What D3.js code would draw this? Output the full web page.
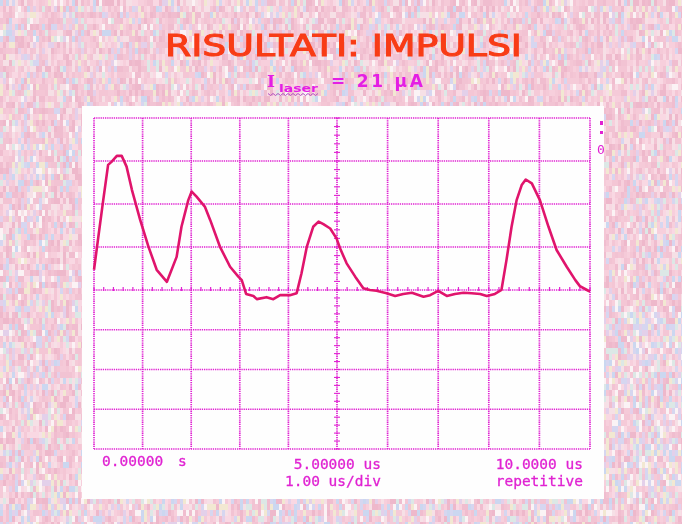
<!DOCTYPE html>
<html>
<head>
<meta charset="utf-8">
<script src="https://cdn.jsdelivr.net/npm/d3@7"></script>
<style>
  html, body { margin: 0; padding: 0; background: #f3c9d8; }
  #wrap { position: relative; width: 682px; height: 524px; overflow: hidden; }
  canvas, svg { position: absolute; left: 0; top: 0; }
</style>
</head>
<body>
<div id="wrap">
  <canvas id="bg" width="682" height="524"></canvas>
  <svg id="chart" width="682" height="524"></svg>
</div>
<script>
// ---------- data ----------
const titleText = "RISULTATI: IMPULSI";
const subtitleMain = "I";
const subtitleSub = "laser";
const subtitleRest = "=  21  \u00B5A";

const timeDivisions = [0, 1, 2, 3, 4, 5, 6, 7, 8, 9, 10];      // us
const voltDivisions = [-4, -3, -2, -1, 0, 1, 2, 3, 4];          // div

const timeLabelsTop = ["0.00000", "5.00000 us", "10.0000 us"];
const timeLabelsBottom = ["1.00 us/div", "repetitive"];
const timeUnit0 = "s";

// trace: time (us) and amplitude (divisions)
const traceTime = [0.00,0.09,0.19,0.29,0.36,0.47,0.57,0.67,0.78,0.95,1.12,1.29,1.50,1.70,1.80,1.94,2.01,2.11,2.28,2.39,2.59,2.80,2.97,3.04,3.13,3.28,3.35,3.55,3.69,3.83,4.03,4.17,4.27,4.38,4.51,4.62,4.72,4.86,4.99,5.06,5.19,5.36,5.52,5.65,5.78,5.98,6.15,6.31,6.48,6.71,6.84,7.00,7.17,7.33,7.50,7.66,7.83,7.96,8.12,8.25,8.35,8.45,8.55,8.65,8.73,8.85,9.01,9.18,9.34,9.54,9.71,9.80,9.94,10.00];
const traceVolt = [0.47,1.24,2.09,2.91,2.98,3.12,3.12,2.87,2.33,1.63,1.01,0.47,0.19,0.77,1.47,2.09,2.29,2.17,1.94,1.63,1.01,0.54,0.31,0.23,-0.10,-0.15,-0.23,-0.18,-0.23,-0.13,-0.13,-0.08,0.39,1.01,1.47,1.59,1.53,1.43,1.20,0.97,0.62,0.31,0.04,0.00,-0.02,-0.08,-0.15,-0.10,-0.07,-0.17,-0.13,-0.02,-0.15,-0.10,-0.07,-0.08,-0.10,-0.15,-0.10,0.00,0.70,1.47,2.09,2.44,2.57,2.48,2.09,1.47,0.93,0.54,0.23,0.09,0.00,-0.04];

// ---------- background texture (decoration) ----------
(function drawBg() {
  const cv = document.getElementById("bg");
  const c = cv.getContext("2d");
  const pinks = ["#f4c6d5", "#f7cfdc", "#f0bdcf", "#f9d8e3", "#f5cad8", "#f2c3d3", "#f6e0e6", "#eeb8cb"];
  const cools = ["#d6d6f0", "#cbd7f0", "#e3d0ea", "#f2e8d2", "#dce8e6", "#fbf3f5"];
  function hash(x, y) {
    let h = (x * 374761393 + y * 668265263) | 0;
    h = (h ^ (h >>> 13)) * 1274126177 | 0;
    return ((h ^ (h >>> 16)) >>> 0) / 4294967296;
  }
  const bw = 3, bh = 6;
  for (let y = 0; y < 524; y += bh) {
    for (let x = 0; x < 682; x += bw) {
      const r = hash(x / bw, y / bh);
      let p = 0.24;
      if (y > 300 && x > 590) p = 0.5;
      if (y > 480) p = 0.42;
      if (x < 50 && y > 150) p = 0.34;
      let col;
      if (r < p) col = cools[(hash(y + 11, x + 5) * cools.length) | 0];
      else col = pinks[(hash(x + 7, y + 3) * pinks.length) | 0];
      c.fillStyle = col;
      c.fillRect(x, y, bw, bh);
    }
  }
  const tmp = document.createElement("canvas");
  tmp.width = 682; tmp.height = 524;
  const t = tmp.getContext("2d");
  t.filter = "blur(0.6px)";
  t.drawImage(cv, 0, 0);
  c.clearRect(0, 0, 682, 524);
  c.drawImage(tmp, 0, 0);
})();

// ---------- chart ----------
const svg = d3.select("#chart");
const mag = "#e022d2";
const traceCol = "#e0146c";

// white scope panel
svg.append("rect").attr("x", 82).attr("y", 106).attr("width", 522).attr("height", 393).attr("fill", "#fefefe");

const x = d3.scaleLinear().domain([0, 5, 10]).range([94, 337, 590]);
const y = d3.scaleLinear().domain([4, 0, -4]).range([118, 290, 449]);

const grid = svg.append("g");
grid.selectAll("line.v").data(timeDivisions).join("line")
  .attr("x1", d => x(d)).attr("x2", d => x(d))
  .attr("y1", y(4)).attr("y2", y(-4))
  .attr("stroke", mag).attr("stroke-width", 1.7).attr("stroke-dasharray", "1.3,0.9");
grid.selectAll("line.h").data(voltDivisions).join("line")
  .attr("y1", d => y(d)).attr("y2", d => y(d))
  .attr("x1", x(0)).attr("x2", x(10))
  .attr("stroke", mag).attr("stroke-width", 1.7).attr("stroke-dasharray", "1.3,0.9");

// minor ticks on the centre lines
const minorT = d3.range(0, 10.001, 0.2);
grid.selectAll("line.mt").data(minorT).join("line")
  .attr("x1", d => x(d)).attr("x2", d => x(d))
  .attr("y1", y(0) - 3).attr("y2", y(0) + 1)
  .attr("stroke", mag).attr("stroke-width", 1.2);
const minorV = d3.range(-4, 4.001, 0.2);
grid.selectAll("line.mv").data(minorV).join("line")
  .attr("y1", d => y(d)).attr("y2", d => y(d))
  .attr("x1", x(5) - 3).attr("x2", x(5) + 3)
  .attr("stroke", mag).attr("stroke-width", 1.1);

// channel marker on the right
svg.append("rect").attr("x", 600).attr("y", 121).attr("width", 3).attr("height", 4).attr("fill", mag);
svg.append("rect").attr("x", 600).attr("y", 131).attr("width", 3).attr("height", 3).attr("fill", mag);
svg.append("text").attr("x", 597).attr("y", 154).attr("font-family", "DejaVu Sans Mono")
  .attr("font-size", 13).attr("fill", mag).text("0");

// trace
const pts = traceTime.map((t, i) => [t, traceVolt[i]]);
svg.append("path").datum(pts)
  .attr("d", d3.line().x(d => x(d[0])).y(d => y(d[1])))
  .attr("fill", "none").attr("stroke", traceCol).attr("stroke-width", 2.6)
  .attr("stroke-linejoin", "round");

// scope labels
const lab = svg.append("g").attr("font-family", "DejaVu Sans Mono").attr("font-size", 14.5)
  .attr("fill", mag).attr("stroke", mag).attr("stroke-width", 0.3);
lab.append("text").attr("x", 102).attr("y", 466).text(timeLabelsTop[0]);
lab.append("text").attr("x", 178).attr("y", 466).text(timeUnit0);
lab.append("text").attr("x", 381).attr("y", 469).attr("text-anchor", "end").text(timeLabelsTop[1]);
lab.append("text").attr("x", 381).attr("y", 486).attr("text-anchor", "end").text(timeLabelsBottom[0]);
lab.append("text").attr("x", 583).attr("y", 469).attr("text-anchor", "end").text(timeLabelsTop[2]);
lab.append("text").attr("x", 583).attr("y", 486).attr("text-anchor", "end").text(timeLabelsBottom[1]);

// title
svg.append("text").attr("x", 165).attr("y", 56)
  .attr("font-family", "DejaVu Sans").attr("font-size", 31).attr("fill", "#f83c16")
  .attr("stroke", "#f83c16").attr("stroke-width", 1.1)
  .attr("textLength", 357).attr("lengthAdjust", "spacingAndGlyphs")
  .text(titleText);

// subtitle
const sub = svg.append("g").attr("font-family", "DejaVu Sans").attr("font-weight", "bold").attr("fill", "#e41ee4");
sub.append("text").attr("x", 267).attr("y", 87).attr("font-size", 17).attr("font-family", "DejaVu Serif").text(subtitleMain);
sub.append("text").attr("x", 279).attr("y", 92).attr("font-size", 11)
  .attr("textLength", 39).attr("lengthAdjust", "spacingAndGlyphs").text(subtitleSub);
sub.append("text").attr("x", 331).attr("y", 87).attr("font-size", 17)
  .attr("textLength", 92).attr("lengthAdjust", "spacing").text(subtitleRest);
// spell-check squiggle under the subscript
const sq = d3.range(0, 21).map(i => [268 + i * 2.5, 94 + (i % 2 ? 1.5 : -0.5)]);
svg.append("path").datum(sq).attr("d", d3.line()).attr("fill", "none")
  .attr("stroke", "#b050c0").attr("stroke-width", 1);
</script>
</body>
</html>
